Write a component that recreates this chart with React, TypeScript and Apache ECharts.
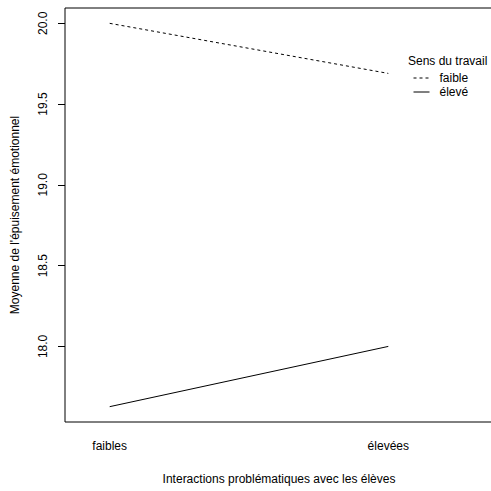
import React, { useEffect, useRef } from "react";
import * as echarts from "echarts";

const categories = ["faibles", "élevées"];
const seriesNames = ["faible", "élevé"];
const faibleValues = [20.0, 19.69];
const eleveValues = [17.627, 18.0];
const yTicks = [18.0, 18.5, 19.0, 19.5, 20.0];

const FONT = "'Liberation Sans', Arial, Helvetica, sans-serif";

export default function App() {
  const ref = useRef<HTMLDivElement>(null);
  useEffect(() => {
    if (!ref.current) return;
    const chart = echarts.init(ref.current, undefined, { renderer: "svg" });
    const allVals = [...faibleValues, ...eleveValues];
    const lo = Math.min(...allVals);
    const hi = Math.max(...allVals);
    const pad = (hi - lo) * 0.04;
    const xMin = 1 - 44.7 / 278.6;
    const xMax = xMin + 428 / 278.6;
    chart.setOption({
      animation: false,
      backgroundColor: "#ffffff",
      textStyle: { fontFamily: FONT, color: "#000" },
      title: {
        text: "Sens du travail",
        left: 408,
        top: 55,
        padding: 0,
        textStyle: { fontSize: 12, fontWeight: "normal", color: "#000", fontFamily: FONT },
      },
      legend: {
        orient: "vertical",
        left: 413,
        top: 72,
        padding: 0,
        itemWidth: 16,
        itemHeight: 14,
        itemGap: 2,
        data: seriesNames,
        itemStyle: { color: "rgba(0,0,0,0)", borderWidth: 0, opacity: 0 },
        lineStyle: { width: 1 },
        textStyle: { fontSize: 12, color: "#000", fontFamily: FONT, padding: [0, 0, 0, 5] },
      },
      grid: {
        left: 65,
        top: 8,
        right: -2,
        bottom: 69,
        containLabel: false,
        outerBoundsMode: "none",
        show: true,
        borderColor: "#000",
        borderWidth: 1,
        backgroundColor: "transparent",
      },
      xAxis: {
        type: "value",
        min: xMin,
        max: xMax,
        name: "Interactions problématiques avec les élèves",
        nameLocation: "middle",
        nameGap: 51,
        nameTextStyle: { fontSize: 12, color: "#000", fontFamily: FONT },
        axisLine: { show: false },
        axisTick: { show: false },
        splitLine: { show: false },
        axisLabel: {
          customValues: [1, 2],
          formatter: (v: number) => categories[Math.round(v) - 1] ?? "",
          fontSize: 12,
          color: "#000",
          margin: 18,
          fontFamily: FONT,
        },
      },
      yAxis: {
        type: "value",
        min: lo - pad,
        max: hi + pad,
        name: "Moyenne de l'épuisement émotionnel",
        nameLocation: "middle",
        nameGap: 44,
        nameRotate: 90,
        nameTextStyle: { fontSize: 12, color: "#000", fontFamily: FONT },
        axisLine: { show: false },
        axisTick: { show: true, length: 7, lineStyle: { color: "#000" }, customValues: yTicks },
        splitLine: { show: false },
        axisLabel: {
          customValues: yTicks,
          formatter: (v: number) => v.toFixed(1),
          rotate: 90,
          fontSize: 12,
          color: "#000",
          margin: 16,
          fontFamily: FONT,
        },
      },
      series: [
        {
          name: seriesNames[0],
          type: "line",
          data: faibleValues.map((v, i) => [i + 1, v]),
          symbol: "none",
          lineStyle: { color: "#000", width: 1, type: [3, 3] },
          itemStyle: { color: "#000" },
        },
        {
          name: seriesNames[1],
          type: "line",
          data: eleveValues.map((v, i) => [i + 1, v]),
          symbol: "none",
          lineStyle: { color: "#000", width: 1, type: "solid" },
          itemStyle: { color: "#000" },
        },
      ],
    });
    return () => chart.dispose();
  }, []);
  return (
    <div
      ref={ref}
      style={{ position: "fixed", left: 0, top: 0, width: 491, height: 491, background: "#fff" }}
    />
  );
}
